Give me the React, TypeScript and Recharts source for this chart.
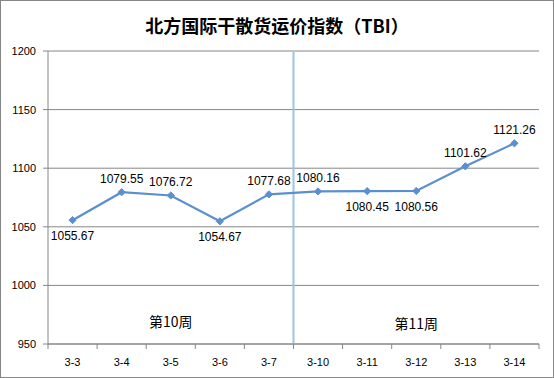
import { ComposedChart, Line, XAxis, YAxis, CartesianGrid, ReferenceLine, ReferenceArea, LabelList } from "recharts";

const dates = ["3-3", "3-4", "3-5", "3-6", "3-7", "3-10", "3-11", "3-12", "3-13", "3-14"];
const tbi = [1055.67, 1079.55, 1076.72, 1054.67, 1077.68, 1080.16, 1080.45, 1080.56, 1101.62, 1121.26];
const yTicks = [950, 1000, 1050, 1100, 1150, 1200];
const weeks = ["第10周", "第11周"];

const labelsBelow = [0, 3, 6, 7];

const chartData = dates.map((d, i) => ({ date: d, tbi: tbi[i] }));

const W = 554;
const H = 378;
const margin = { top: 51, right: 15, bottom: 4, left: 0 };
const yAxisWidth = 48;
const band = (W - margin.left - margin.right - yAxisWidth) / dates.length;

const axisGray = "#868686";
const lineBlue = "#5b8fd0";
const font = "'Liberation Sans', Arial, sans-serif";
const cjk = "'Noto Sans CJK SC', sans-serif";

function Diamond(props: any) {
  const { cx, cy, index } = props;
  if (cx == null || cy == null) return null;
  const r = 3.6;
  return (
    <path
      key={"d" + index}
      d={`M${cx},${cy - r}L${cx + r},${cy}L${cx},${cy + r}L${cx - r},${cy}Z`}
      fill={lineBlue}
      stroke={lineBlue}
    />
  );
}

function PointLabel(props: any) {
  const { index, value } = props;
  const x = props.x ?? props.viewBox?.x;
  const y = props.y ?? props.viewBox?.y;
  if (x == null || y == null) return null;
  const below = labelsBelow.includes(index);
  return (
    <text
      x={x}
      y={below ? y + 16 : y - 13}
      textAnchor="middle"
      dominantBaseline="central"
      fontSize={12}
      fontFamily={font}
      fill="#000"
    >
      {Number(value).toFixed(2)}
    </text>
  );
}

// category tick: tick mark sits on the band boundary, label in the band centre
function DateTick(props: any) {
  const { x, y, payload, index } = props;
  const left = x - band / 2;
  const last = index === dates.length - 1;
  return (
    <g>
      <line x1={left} y1={y} x2={left} y2={y + 5} stroke={axisGray} />
      {last && <line x1={x + band / 2} y1={y} x2={x + band / 2} y2={y + 5} stroke={axisGray} />}
      <text x={x} y={y + 18} textAnchor="middle" dominantBaseline="central" fontSize={11} fontFamily={font} fill="#000">
        {payload.value}
      </text>
    </g>
  );
}

export default function App() {
  return (
    <div style={{ position: "absolute", left: 0, top: 0, width: W, height: H, background: "#fff" }}>
      <div
        style={{
          position: "absolute",
          left: 0,
          top: 14,
          width: W,
          textAlign: "center",
          fontFamily: cjk,
          fontWeight: 700,
          fontSize: 18,
          lineHeight: "22px",
          color: "#000",
        }}
      >
        北方国际干散货运价指数（TBI）
      </div>
      <ComposedChart width={W} height={H} data={chartData} margin={margin}>
        <CartesianGrid vertical={false} stroke={axisGray} />
        <XAxis
          dataKey="date"
          scale="band"
          height={30}
          stroke={axisGray}
          tickLine={false}
          tickSize={0}
          tickMargin={0}
          tick={DateTick}
          interval={0}
        />
        <YAxis
          domain={[950, 1200]}
          ticks={yTicks}
          width={yAxisWidth}
          stroke={axisGray}
          tickSize={5}
          tickMargin={7}
          tick={{ fontSize: 11, fill: "#000", fontFamily: font }}
          interval={0}
        />
        <ReferenceArea
          x1={dates[0]}
          x2={dates[4]}
          fill="none"
          fillOpacity={0}
          label={{ value: weeks[0], position: "insideBottom", offset: 17, fontSize: 14, fill: "#000", fontFamily: cjk }}
        />
        <ReferenceArea
          x1={dates[5]}
          x2={dates[9]}
          fill="none"
          fillOpacity={0}
          label={{ value: weeks[1], position: "insideBottom", offset: 15, fontSize: 14, fill: "#000", fontFamily: cjk }}
        />
        <ReferenceLine x={dates[5]} position="start" stroke="#9dc3e6" strokeWidth={2} />
        <Line
          dataKey="tbi"
          stroke={lineBlue}
          strokeWidth={2.25}
          dot={Diamond}
          activeDot={false}
          isAnimationActive={false}
        >
          <LabelList dataKey="tbi" content={PointLabel} />
        </Line>
      </ComposedChart>
      <div
        style={{
          position: "absolute",
          left: 0,
          top: 0,
          width: W,
          height: H,
          boxSizing: "border-box",
          border: "1px solid #868686",
          pointerEvents: "none",
        }}
      />
    </div>
  );
}
